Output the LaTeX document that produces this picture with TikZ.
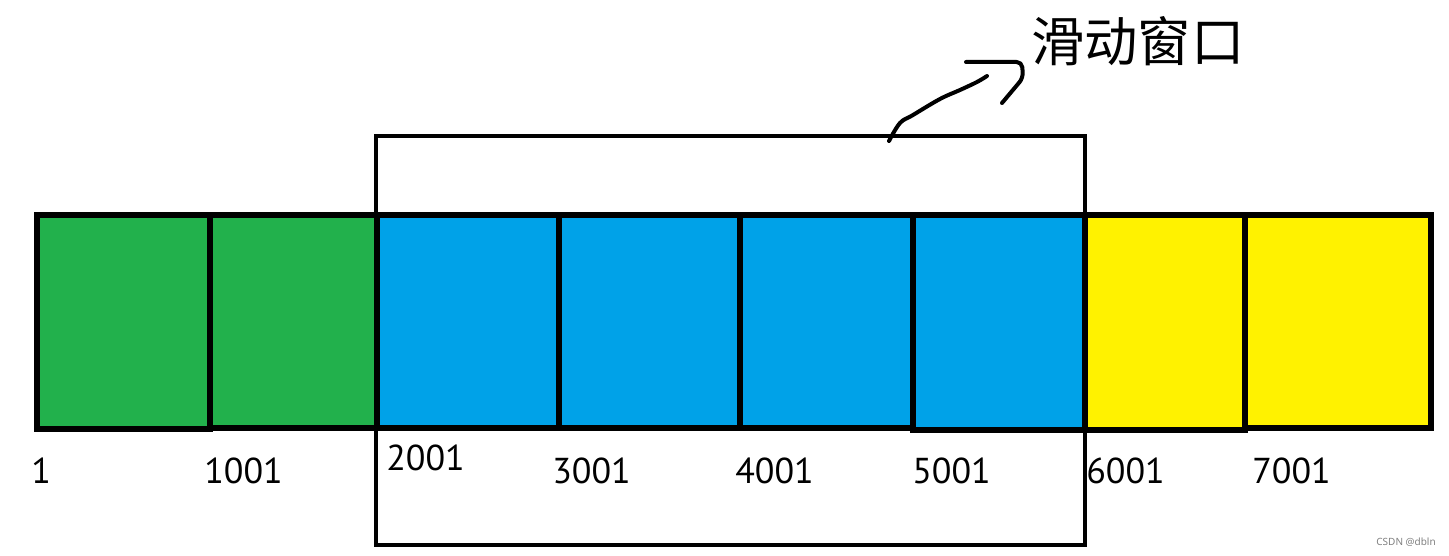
\documentclass[tikz,border=0pt]{standalone}
\usepackage{fontspec}
\setmainfont{PT Sans}
\newfontfamily\cjk{Noto Sans CJK SC}
\newfontfamily\wmfont{Noto Sans}
\definecolor{pgreen}{HTML}{22B14C}
\definecolor{pblue}{HTML}{00A2E8}
\definecolor{pyellow}{HTML}{FFF200}
\begin{document}
\begin{tikzpicture}[x=0.75pt,y=-0.75pt,
  cell/.style={draw=black,line width=4.5pt},
  win/.style={draw=black,line width=3pt},
  num/.style={anchor=base west,inner sep=0pt,font=\fontsize{27}{30}\selectfont},
  hand/.style={draw=black,line width=3pt,line cap=round,line join=round}]
\useasboundingbox (0,0) rectangle (1449,556);
% cells
\path[cell,fill=pgreen]  (36.5,215) rectangle (209.5,429);
\path[cell,fill=pgreen]  (209.5,215) rectangle (377,428);
\path[cell,fill=pblue]   (377,215) rectangle (559,428);
\path[cell,fill=pblue]   (559,215) rectangle (739.5,428);
\path[cell,fill=pblue]   (739.5,215) rectangle (913,428);
\path[cell,fill=pblue]   (913,215) rectangle (1085,429.5);
\path[cell,fill=pyellow] (1085,215) rectangle (1245,429.5);
\path[cell,fill=pyellow] (1245,215) rectangle (1431,428);
% window
\path[win] (375.5,136.5) rectangle (1084.5,545);
% labels
\node[num] (l1) at (31,483) {1};
\node[num] (l2) at (204,483) {1001};
\node[num] (l3) at (386,470) {2001};
\node[num] (l4) at (552,483) {3001};
\node[num] (l5) at (735,483) {4001};
\node[num] (l6) at (912,483) {5001};
\node[num] (l7) at (1086,483) {6001};
\node[num] (l8) at (1252,483) {7001};
\node[anchor=west,inner sep=0pt,font=\cjk\fontsize{40}{44}\selectfont] (title) at (1031,41) {滑动窗口};
% hand-drawn arrow
\coordinate (s) at (889,141);
\draw[hand] plot[smooth,tension=0.6] coordinates {(s) (900,123) (913,115) (940,99) (960,90) (977,82) (987,76)};
\draw[hand,rounded corners=4pt] (966,62) -- (1022,62) -- (1023,78) -- (1002,103);
% watermark
\node[anchor=east,inner sep=0pt,text=gray,font=\wmfont\fontsize{7.5}{9}\selectfont] (wm) at (1436,542) {CSDN @dbln};
\end{tikzpicture}
\end{document}
